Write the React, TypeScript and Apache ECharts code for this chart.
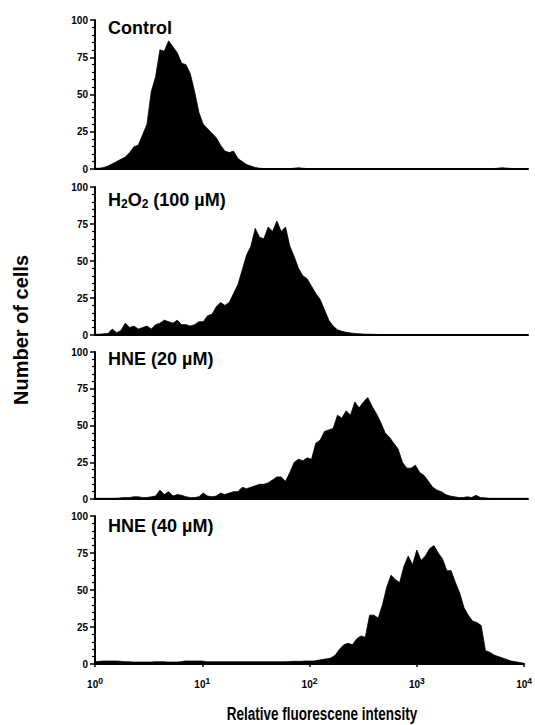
import React, { useEffect, useRef } from "react";
import * as echarts from "echarts";

// Channel width in decades (log amplifier: channel i sits at 10^(i*STEP))
const STEP = 0.04;

const panelTitles = [
  "Control",
  "H{sub|2}O{sub|2} (100 µM)",
  "HNE (20 µM)",
  "HNE (40 µM)",
];

const yTicks = [0, 25, 50, 75, 100];
const xDecades = [0, 1, 2, 3, 4];

const control = [
  0.5, 0.5, 1, 2, 3.5, 5, 6.5, 8, 11, 15,
  16, 23, 30, 52, 62, 80, 79, 86, 82, 78,
  71, 70, 64, 52, 38, 30, 27, 24, 21, 16,
  12, 11, 12, 7, 5, 3, 2, 1, 0.5, 0.3,
  0.3, 0.3, 0.3, 0.2, 0.3, 0.3, 0.5, 0.8, 0.5, 0.3,
  0.3, 0.2, 0.3, 0.3, 0.2, 0.3, 0.3, 0.3, 0.2, 0.3,
  0.3, 0.3, 0.2, 0.3, 0.3, 0.3, 0.2, 0.3, 0.3, 0.3,
  0.2, 0.3, 0.3, 0.3, 0.3, 0.2, 0.3, 0.3, 0.3, 0.3,
  0.3, 0.2, 0.3, 0.3, 0.3, 0.3, 0.3, 0.2, 0.3, 0.3,
  0.3, 0.3, 0.3, 0.5, 0.8, 0.6, 0.4, 0.3, 0.3, 0.3,
  0.3,
];

const h2o2 = [
  0.5, 0.5, 0.8, 1, 4, 1.5, 3, 8, 5, 6,
  4, 5, 6, 4, 7, 8, 10, 9, 8, 10,
  7, 7, 6, 7, 9, 9, 13, 14, 19, 22,
  20, 22, 28, 34, 44, 54, 60, 72, 66, 65,
  73, 70, 77, 70, 73, 60, 53, 45, 40, 38,
  33, 28, 24, 17, 10, 6, 3.5, 2.5, 1.8, 1.4,
  1, 0.8, 0.6, 0.5, 0.5, 0.4, 0.4, 0.3, 0.3, 0.3,
  0.3, 0.3, 0.3, 0.3, 0.3, 0.3, 0.3, 0.3, 0.3, 0.3,
  0.3, 0.3, 0.3, 0.3, 0.3, 0.3, 0.3, 0.3, 0.3, 0.3,
  0.3, 0.3, 0.3, 0.3, 0.3, 0.3, 0.3, 0.3, 0.3, 0.3,
  0.3,
];

const hne20 = [
  0.5, 0.5, 0.5, 0.5, 0.5, 0.5, 0.8, 1, 1, 1.5,
  1.5, 1, 1, 1.5, 2, 6, 3, 5, 2, 3,
  2.5, 1.5, 1, 1, 1.5, 4, 2, 1.5, 2, 4,
  3, 4, 5, 5, 8, 7, 8, 9, 10, 10,
  11, 13, 15, 15, 12, 18, 25, 27, 26, 28,
  27, 38, 40, 46, 47, 48, 57, 55, 60, 57,
  66, 62, 66, 69, 63, 58, 52, 45, 42, 38,
  34, 25, 21, 21, 23, 18, 16, 12, 8, 6,
  5, 3, 2, 1.5, 1, 1, 1.5, 1, 2.5, 1,
  0.8, 0.5, 0.5, 0.5, 0.5, 0.5, 0.5, 0.5, 0.5, 0.5,
  0.5,
];

const hne40 = [
  1.5, 1.8, 2, 2, 2, 2, 1.8, 1.5, 1.5, 1.3,
  1.3, 1.3, 1.3, 1.3, 1.5, 1.5, 1.5, 1.3, 1.3, 1.3,
  1.5, 2, 2, 2, 2, 2, 1.5, 1.5, 1.5, 1.5,
  1.5, 1.5, 1.5, 1.5, 1.5, 1.5, 1.5, 1.5, 1.5, 1.5,
  1.5, 1.5, 1.5, 1.5, 1.5, 1.6, 1.8, 1.8, 1.8, 2,
  2, 2, 2.5, 3, 3.5, 4, 6, 10, 13, 14,
  13, 17, 19, 18, 33, 33, 31, 40, 52, 60,
  57, 55, 66, 73, 67, 77, 70, 73, 78, 80,
  75, 71, 63, 63, 55, 48, 38, 33, 29, 28,
  26, 9, 8, 6, 5, 4, 3, 2, 1.5, 1,
  0.5,
];

const panels = [control, h2o2, hne20, hne40];
const xAxisTitle = "Relative fluorescene intensity";
const yAxisTitle = "Number of cells";

const GRID_TOPS = [20, 187, 352, 516];
const GRID_HEIGHTS = [149, 148, 147, 148];
const TITLE_TOPS = [19, 190, 350, 517];
const FONT = "Arial, 'Liberation Sans', Helvetica, sans-serif";

export default function App() {
  const ref = useRef<HTMLDivElement>(null);

  useEffect(() => {
    document.body.style.margin = "0";
    const chart = echarts.init(ref.current!, null, { renderer: "svg" });
    const last = panels.length - 1;

    const option: any = {
      animation: false,
      backgroundColor: "#fff",
      title: panelTitles.map((t, k) => ({
        text: t,
        left: 108,
        top: TITLE_TOPS[k],
        padding: 0,
        textStyle: {
          fontFamily: FONT,
          fontSize: 18,
          fontWeight: "bold",
          color: "#000",
          rich: {
            sub: {
              fontFamily: FONT,
              fontSize: 12,
              fontWeight: "bold",
              color: "#000",
              padding: [8, 0, 0, 0],
            },
          },
        },
      })),
      grid: panels.map((_, k) => ({
        left: 95,
        right: 7,
        top: GRID_TOPS[k],
        height: GRID_HEIGHTS[k],
      })),
      xAxis: panels.map((_, k) => ({
        type: "log",
        logBase: 10,
        min: Math.pow(10, xDecades[0]),
        max: Math.pow(10, xDecades[xDecades.length - 1]),
        gridIndex: k,
        axisLine: { show: true, lineStyle: { color: "#000", width: 2 } },
        axisTick: {
          show: k === last,
          length: 3,
          lineStyle: { color: "#000", width: 1.5 },
        },
        minorTick: { show: false },
        splitLine: { show: false },
        axisLabel: {
          show: k === last,
          margin: 12,
          color: "#000",
          formatter: (v: number) => `{b|10}{s|${Math.round(Math.log10(v))}}`,
          rich: {
            b: { fontFamily: FONT, fontSize: 10, fontWeight: "bold", color: "#000" },
            s: {
              fontFamily: FONT,
              fontSize: 8.5,
              fontWeight: "bold",
              color: "#000",
              padding: [0, 0, 7, 0],
            },
          },
        },
      })),
      yAxis: panels.map((_, k) => ({
        type: "value",
        gridIndex: k,
        min: yTicks[0],
        max: yTicks[yTicks.length - 1],
        interval: yTicks[1] - yTicks[0],
        axisLine: { show: true, lineStyle: { color: "#000", width: 2 } },
        axisTick: { show: true, length: 5, lineStyle: { color: "#000", width: 1.5 } },
        minorTick: { show: true, splitNumber: 5, length: 3, lineStyle: { color: "#000", width: 1.2 } },
        splitLine: { show: false },
        axisLabel: {
          margin: 7,
          color: "#000",
          fontFamily: FONT,
          fontSize: 10,
          fontWeight: "bold",
        },
      })),
      series: panels.map((vals, k) => ({
        type: "line",
        xAxisIndex: k,
        yAxisIndex: k,
        silent: true,
        showSymbol: false,
        symbol: "none",
        data: vals.map((v, i) => [Math.pow(10, i * STEP), v]),
        lineStyle: { color: "#000", width: 0.8 },
        areaStyle: { color: "#000", opacity: 1 },
      })),
      graphic: [
        {
          type: "text",
          x: 21,
          y: 330,
          rotation: Math.PI / 2,
          style: {
            text: yAxisTitle,
            font: `bold 20px ${FONT}`,
            fill: "#000",
            textAlign: "center",
            textVerticalAlign: "middle",
          },
        },
        {
          type: "text",
          x: 322,
          y: 714,
          scaleY: 1.3,
          style: {
            text: xAxisTitle,
            font: `bold 13.5px ${FONT}`,
            fill: "#000",
            textAlign: "center",
            textVerticalAlign: "middle",
          },
        },
      ],
    };

    chart.setOption(option);
    return () => chart.dispose();
  }, []);

  return <div ref={ref} style={{ width: 535, height: 725 }} />;
}
